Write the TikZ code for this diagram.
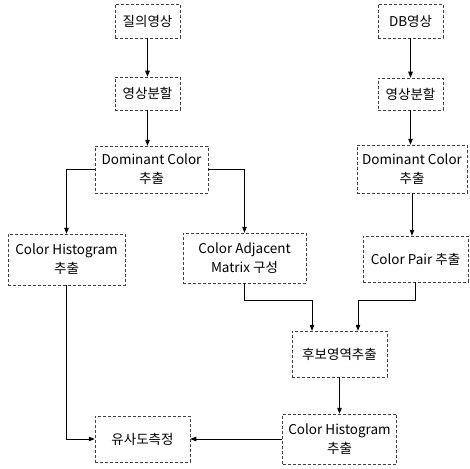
\documentclass[tikz,border=0pt]{standalone}
\usepackage{fontspec}
\setmainfont{Noto Sans CJK KR}
\usetikzlibrary{arrows.meta, calc}

\begin{document}
\begin{tikzpicture}[
    x=1pt, y=-1pt,
    every node/.style={font=\fontsize{13.5}{19}\selectfont},
    stage/.style={draw=black!75, densely dashed, line width=0.5pt, align=center, inner sep=0pt, minimum height=34pt},
    flow/.style={-{Triangle[length=6pt,width=4.5pt]}, line width=0.7pt}
]
    \useasboundingbox (0,0) rectangle (470,468);

    % query image side
    \node[stage, minimum width=65pt] (qimg) at (147.5,21) {질의영상};
    \node[stage, minimum width=65pt, minimum height=33pt] (qseg) at (147.5,93.5) {영상분할};
    \node[stage, minimum width=113pt, minimum height=47pt] (qdom) at (151.5,169.5) {Dominant Color\\추출};
    \node[stage, minimum width=117pt, minimum height=51pt] (qhist) at (66.5,259.5) {Color Histogram\\추출};
    \node[stage, minimum width=123pt, minimum height=50pt] (qadj) at (244.5,258) {Color Adjacent\\Matrix 구성};

    % database image side
    \node[stage, minimum width=65pt] (dbimg) at (410.5,21) {DB영상};
    \node[stage, minimum width=65pt, minimum height=32pt] (dbseg) at (410.5,94) {영상분할};
    \node[stage, minimum width=110pt, minimum height=48pt] (dbdom) at (412,169) {Dominant Color\\추출};
    \node[stage, minimum width=105pt, minimum height=46pt] (dbpair) at (415.5,259) {Color Pair 추출};

    % matching
    \node[stage, minimum width=95pt, minimum height=46pt] (cand) at (339.5,354) {후보영역추출};
    \node[stage, minimum width=114pt, minimum height=50pt] (dbhist) at (339.5,439) {Color Histogram\\추출};
    \node[stage, minimum width=95pt, minimum height=46pt] (sim) at (142.5,439) {유사도측정};

    \coordinate (jadj) at (312,300);
    \coordinate (jpair) at (358,300);

    \draw[flow] (qimg) -- (qseg);
    \draw[flow] (qseg.south) -- (qseg.south |- qdom.north);
    \draw[flow] (qdom.west) -| (qhist.north);
    \draw[flow] (qdom.east) -| (qadj.north);

    \draw[flow] (dbimg) -- (dbseg);
    \draw[flow] (dbseg.south) -- (dbseg.south |- dbdom.north);
    \draw[flow] (dbdom.south) -- (dbdom.south |- dbpair.north);

    \draw[flow] (qadj.south) |- (jadj) -- (jadj |- cand.north);
    \draw[flow] (dbpair.south) |- (jpair) -- (jpair |- cand.north);
    \draw[flow] (cand) -- (dbhist);

    \draw[flow] (qhist.south) |- (sim.west);
    \draw[flow] (dbhist.west) -- (sim.east);
\end{tikzpicture}
\end{document}
